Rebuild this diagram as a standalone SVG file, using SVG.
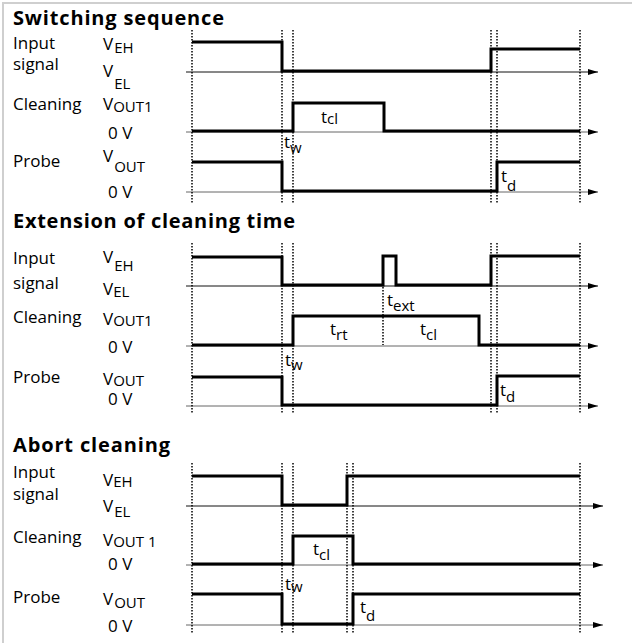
<svg xmlns="http://www.w3.org/2000/svg" width="632" height="643" viewBox="0 0 632 643">
<style>
.bg{fill:#fff}
.frame{stroke:#cfcfcf;stroke-width:2;fill:none}
.w{fill:none;stroke:#000;stroke-width:3;stroke-linejoin:miter;stroke-linecap:butt}
.ax{stroke:#111;stroke-width:1;fill:none}
.ax2{stroke:#666;stroke-width:1;fill:none}
.dot{stroke:#000;stroke-width:1.5;stroke-dasharray:1.5 1.5;fill:none}
text{font-family:"Open Sans","Noto Sans","DejaVu Sans",sans-serif;fill:#000}
.lb{font-size:17px}
.sb{font-size:15px}
.tt{font-size:20px;font-weight:bold}
</style>
<defs>
<marker id="arr" markerUnits="userSpaceOnUse" markerWidth="10" markerHeight="6" refX="10" refY="3" orient="auto">
<path d="M0,0 L10,3 L0,6 z" fill="#000"/>
</marker>
</defs>
<rect class="bg" x="0" y="0" width="632" height="643"/>
<path class="frame" d="M3,643 V3 H632"/>

<!-- Section 1 -->
<g id="sec1">
<text class="tt" x="13" y="25" textLength="211" lengthAdjust="spacing">Switching sequence</text>
<g id="sec1-labels">
<text class="lb" x="13" y="49">Input</text>
<text class="lb" x="13" y="70">signal</text>
<text class="lb" x="13" y="110">Cleaning</text>
<text class="lb" x="13" y="167">Probe</text>
<text class="lb" x="103" y="50">V<tspan class="sb" dx="1" dy="3">EH</tspan></text>
<text class="lb" x="103" y="77">V<tspan class="sb" dx="1" dy="12">EL</tspan></text>
<text class="lb" x="103" y="110">V<tspan class="sb" dx="0" dy="2">OUT1</tspan></text>
<text class="lb" x="108" y="139">0 V</text>
<text class="lb" x="103" y="162">V<tspan class="sb" dx="1" dy="10">OUT</tspan></text>
<text class="lb" x="108" y="198">0 V</text>
</g>
<g id="sec1-axes">
<line class="ax" x1="186" y1="72" x2="598" y2="72" marker-end="url(#arr)"/>
<line class="ax2" x1="186" y1="132" x2="598" y2="132" marker-end="url(#arr)"/>
<line class="ax2" x1="186" y1="192" x2="598" y2="192" marker-end="url(#arr)"/>
</g>
<g id="sec1-waves">
<path class="w" d="M192,42 H282 V71 H491 V49 H580"/>
<path class="w" d="M192,131 H293 V103 H384 V131 H580"/>
<path class="w" d="M192,162 H282 V191 H497 V162 H580"/>
</g>
<g id="sec1-dots">
<line class="dot" x1="192" y1="30" x2="192" y2="203"/>
<line class="dot" x1="282" y1="30" x2="282" y2="203"/>
<line class="dot" x1="293" y1="30" x2="293" y2="203"/>
<line class="dot" x1="491" y1="30" x2="491" y2="203"/>
<line class="dot" x1="497" y1="30" x2="497" y2="203"/>
<line class="dot" x1="580" y1="30" x2="580" y2="203"/>
</g>
<g id="sec1-times">
<text class="lb" x="321" y="123">t<tspan class="sb" dy="1">cl</tspan></text>
<text class="lb" x="284" y="148">t<tspan class="sb" dy="5">w</tspan></text>
<text class="lb" x="501" y="182">t<tspan class="sb" dy="9">d</tspan></text>
</g>
</g>

<!-- Section 2 -->
<g id="sec2">
<text class="tt" x="13" y="228" textLength="282" lengthAdjust="spacing">Extension of cleaning time</text>
<g id="sec2-labels">
<text class="lb" x="13" y="264">Input</text>
<text class="lb" x="13" y="289">signal</text>
<text class="lb" x="13" y="323">Cleaning</text>
<text class="lb" x="13" y="383">Probe</text>
<text class="lb" x="103" y="263">V<tspan class="sb" dx="1" dy="8">EH</tspan></text>
<text class="lb" x="103" y="295">V<tspan class="sb" dx="0" dy="2">EL</tspan></text>
<text class="lb" x="103" y="325">V<tspan class="sb" dx="0" dy="1">OUT1</tspan></text>
<text class="lb" x="108" y="353">0 V</text>
<text class="lb" x="103" y="385">V<tspan class="sb" dx="0" dy="1">OUT</tspan></text>
<text class="lb" x="108" y="405">0 V</text>
</g>
<g id="sec2-axes">
<line class="ax" x1="186" y1="286" x2="598" y2="286" marker-end="url(#arr)"/>
<line class="ax2" x1="186" y1="346" x2="598" y2="346" marker-end="url(#arr)"/>
<line class="ax2" x1="186" y1="406" x2="598" y2="406" marker-end="url(#arr)"/>
</g>
<g id="sec2-waves">
<path class="w" d="M192,257 H282 V285 H383 V256 H396 V285 H491 V256 H580"/>
<path class="w" d="M192,345 H293 V316 H479 V345 H580"/>
<path class="w" d="M192,377 H282 V405 H497 V376 H580"/>
</g>
<g id="sec2-dots">
<line class="dot" x1="192" y1="243" x2="192" y2="414"/>
<line class="dot" x1="282" y1="243" x2="282" y2="414"/>
<line class="dot" x1="293" y1="243" x2="293" y2="414"/>
<line class="dot" x1="491" y1="243" x2="491" y2="414"/>
<line class="dot" x1="497" y1="243" x2="497" y2="414"/>
<line class="dot" x1="580" y1="243" x2="580" y2="414"/>
<line class="dot" x1="383" y1="287" x2="383" y2="345"/>
</g>
<g id="sec2-times">
<text class="lb" x="387" y="306">t<tspan class="sb" dy="5">ext</tspan></text>
<text class="lb" x="330" y="335">t<tspan class="sb" dy="5">rt</tspan></text>
<text class="lb" x="420" y="335">t<tspan class="sb" dy="5">cl</tspan></text>
<text class="lb" x="285" y="366">t<tspan class="sb" dy="4">w</tspan></text>
<text class="lb" x="500" y="396">t<tspan class="sb" dy="6">d</tspan></text>
</g>
</g>

<!-- Section 3 -->
<g id="sec3">
<text class="tt" x="13" y="452" textLength="157" lengthAdjust="spacing">Abort cleaning</text>
<g id="sec3-labels">
<text class="lb" x="13" y="478">Input</text>
<text class="lb" x="13" y="500">signal</text>
<text class="lb" x="13" y="543">Cleaning</text>
<text class="lb" x="13" y="603">Probe</text>
<text class="lb" x="103" y="486">V<tspan class="sb" dx="0" dy="1">EH</tspan></text>
<text class="lb" x="103" y="512">V<tspan class="sb" dx="1" dy="5">EL</tspan></text>
<text class="lb" x="103" y="546">V<tspan class="sb" dx="0" dy="1">OUT 1</tspan></text>
<text class="lb" x="108" y="570">0 V</text>
<text class="lb" x="103" y="605">V<tspan class="sb" dx="1" dy="3">OUT</tspan></text>
<text class="lb" x="108" y="632">0 V</text>
</g>
<g id="sec3-axes">
<line class="ax" x1="186" y1="506" x2="603" y2="506" marker-end="url(#arr)"/>
<line class="ax2" x1="186" y1="565" x2="603" y2="565" marker-end="url(#arr)"/>
<line class="ax2" x1="186" y1="625" x2="603" y2="625" marker-end="url(#arr)"/>
</g>
<g id="sec3-waves">
<path class="w" d="M192,476 H282 V505 H347 V476 H580"/>
<path class="w" d="M192,564 H293 V536 H353 V564 H580"/>
<path class="w" d="M192,594 H282 V624 H353 V594 H580"/>
</g>
<g id="sec3-dots">
<line class="dot" x1="192" y1="463" x2="192" y2="633"/>
<line class="dot" x1="282" y1="463" x2="282" y2="633"/>
<line class="dot" x1="293" y1="463" x2="293" y2="633"/>
<line class="dot" x1="347" y1="463" x2="347" y2="633"/>
<line class="dot" x1="353" y1="463" x2="353" y2="633"/>
<line class="dot" x1="580" y1="463" x2="580" y2="633"/>
</g>
<g id="sec3-times">
<text class="lb" x="313" y="555">t<tspan class="sb" dy="5">cl</tspan></text>
<text class="lb" x="285" y="590">t<tspan class="sb" dy="2">w</tspan></text>
<text class="lb" x="360" y="613">t<tspan class="sb" dy="8">d</tspan></text>
</g>
</g>
</svg>
